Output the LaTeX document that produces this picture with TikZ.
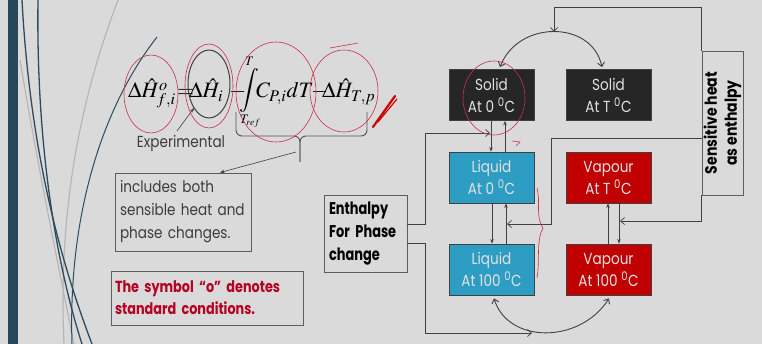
\documentclass[tikz,border=0pt]{standalone}
\usepackage{mathptmx}
\usepackage{fontspec}
\usetikzlibrary{arrows.meta}
\newfontfamily\gothic[FakeStretch=0.85]{Poppins}
\newfontfamily\gothicn[FakeStretch=0.76]{Poppins}
\newfontfamily\gothicr[FakeStretch=0.8]{Poppins}
\definecolor{bg}{RGB}{218,218,218}
\definecolor{bar}{RGB}{38,72,90}
\definecolor{solidc}{RGB}{38,38,38}
\definecolor{liq}{RGB}{46,157,195}
\definecolor{vap}{RGB}{192,0,0}
\definecolor{boxtxt}{RGB}{226,226,226}
\definecolor{ln}{RGB}{64,64,64}
\definecolor{txt}{RGB}{60,60,60}
\definecolor{redtxt}{RGB}{180,0,35}
\definecolor{ink}{RGB}{205,45,75}
\definecolor{deco}{RGB}{45,75,95}
\definecolor{decol}{RGB}{180,180,180}
\begin{document}
\begin{tikzpicture}[x=1pt,y=-1pt,
  phase/.style={minimum width=85pt,minimum height=51pt,draw=ln,line width=0.8pt,
    text=boxtxt,font=\gothic\fontsize{16}{22}\selectfont,align=center,inner sep=0pt},
  tbox/.style={draw=ln!85,line width=0.9pt,align=left,inner ysep=0pt,anchor=center},
  conn/.style={draw=ln,line width=0.7pt},
  arr/.style={conn,-{Stealth[length=4.5pt,width=3.5pt]}},
  barb/.style={conn,-{Straight Barb[length=4pt,width=7pt]}},
  barbs/.style={conn,{Straight Barb[length=4pt,width=7pt]}-{Straight Barb[length=4pt,width=7pt]}},
  eq/.style={font=\fontsize{22}{26}\selectfont,inner sep=0pt,anchor=base west},
  lim/.style={font=\fontsize{13}{15}\selectfont,inner sep=0pt,anchor=base west},
  note/.style={draw=ink,line width=0.6pt},
  decod/.style={draw=deco,line width=1.3pt},
  decog/.style={draw=decol,line width=1.1pt}]
\fill[bg] (0,0) rectangle (762,344);
\useasboundingbox (0,0) rectangle (762,344);
% decorative slide background
\draw[decog] (118,0) .. controls (80,100) and (58,210) .. (64,344);
\draw[decog] (20,60) .. controls (35,150) and (55,250) .. (74,344);
\draw[decod] (22,0) .. controls (30,150) and (60,260) .. (92,344);
\draw[decod] (38,0) .. controls (36,140) and (55,260) .. (82,344);
\draw[decod,line width=1pt] (157,37) .. controls (100,110) and (68,220) .. (72,344);
\fill[bar] (8,0) rectangle (18,344);

% equation
\node[eq] (h1) at (128,98) {$\Delta\hat{H}^{o}_{f,i}$};
\node[eq] (eqs) at (177,98) {$=$};
\node[eq] (h2) at (189,98) {$\Delta\hat{H}_{i}$};
\node[eq] (m1) at (229,98) {$-$};
\node[font=\fontsize{22}{26}\selectfont,inner sep=0pt] (ints) at (249,90) {$\displaystyle\int$};
\node[lim] (up) at (245,66) {$T$};
\node[lim] (lo) at (240,124) {$T_{ref}$};
\node[eq] (cp) at (256,98) {$C_{P,i}dT$};
\node[eq] (m2) at (311,98) {$-$};
\node[eq] (h3) at (322,98) {$\Delta\hat{H}_{T,p}$};
\node[font=\gothic\fontsize{16}{19}\selectfont,text=txt,inner sep=0pt] (exp) at (181,143) {Experimental};
\coordinate (ex1) at (177,131);
\coordinate (ex2) at (194,108);
\draw[arr,line width=0.6pt] (ex1) -- (ex2);

% brace
\coordinate (bl) at (236,112);
\coordinate (br) at (367,112);
\coordinate (bm) at (300,136);
\coordinate (bt) at (300,162);
\draw[ln!90,line width=0.9pt,rounded corners=6pt] (bl) |- (bm) -- (bt);
\draw[ln!90,line width=0.9pt,rounded corners=6pt] (br) |- (bm) -- (bt);
\coordinate (bs) at (296,152);

% text boxes
\node[tbox,minimum width=136pt,minimum height=78pt,text width=126pt,inner xsep=5pt,
  text=txt,font=\gothic\fontsize{16}{23}\selectfont] (inc) at (183,212)
  {includes both\\sensible heat and\\phase changes.};
\draw[arr,line width=0.6pt] (bs) -- ([xshift=37pt]inc.north);
\node[tbox,minimum width=192pt,minimum height=54pt,text width=184pt,inner xsep=4pt,
  text=redtxt,font=\gothicr\bfseries\fontsize{16}{22}\selectfont] (sym) at (207,298)
  {The symbol “o” denotes\\standard conditions.};
\node[tbox,minimum width=83pt,minimum height=77pt,text width=73pt,inner xsep=5pt,
  text=black,font=\gothicn\bfseries\fontsize{17}{23}\selectfont] (ent) at (365.5,233.5)
  {Enthalpy\\For Phase\\change};

% phase boxes
\node[phase,fill=solidc] (s0) at (491.5,95) {Solid\\At 0 \textsuperscript{0}C};
\node[phase,fill=solidc] (sT) at (608.5,95) {Solid\\At T \textsuperscript{0}C};
\node[phase,fill=liq] (l0) at (491.5,177.5) {Liquid\\At 0 \textsuperscript{0}C};
\node[phase,fill=vap] (vT) at (608.5,177.5) {Vapour\\At T \textsuperscript{0}C};
\node[phase,fill=liq] (l100) at (491.5,269.5) {Liquid\\At 100 \textsuperscript{0}C};
\node[phase,fill=vap] (v100) at (608.5,269.5) {Vapour\\At 100 \textsuperscript{0}C};

\node[draw=ln!85,line width=0.9pt,minimum width=41pt,minimum height=144pt,inner sep=0pt] (sens) at (722.5,123) {};
\node[rotate=90,align=center,font=\gothic\bfseries\fontsize{16.5}{20}\selectfont,text=black,inner sep=0pt] (senst) at (sens.center) {Sensitive heat\\as enthalpy};

% vertical arrows
\draw[arr] ([xshift=-0.5pt]s0.south) -- ([xshift=-0.5pt]l0.north);
\draw[arr] ([xshift=13.5pt]l0.north) -- ([xshift=13.5pt]s0.south);
\draw[arr] ([xshift=0.5pt]l0.south) -- ([xshift=0.5pt]l100.north);
\draw[arr] ([xshift=14.5pt]l100.north) -- ([xshift=14.5pt]l0.south);
\draw[arr] ([xshift=-0.5pt]v100.north) -- ([xshift=-0.5pt]vT.south);
\draw[arr] ([xshift=10.5pt]vT.south) -- ([xshift=10.5pt]v100.north);

% curves
\coordinate (apex) at (554,32);
\coordinate (topy) at (0,7);
\draw[barbs,line width=0.9pt] ([xshift=8.5pt,yshift=2pt]s0.north) .. controls (518,20) and (592,20) .. ([xshift=-6.5pt,yshift=2pt]sT.north);
\draw[barb] (sens.north west) |- (topy -| apex) -- (apex);
\draw[barbs,line width=0.9pt] ([xshift=2.5pt,yshift=-3pt]l100.south) .. controls (508,344) and (580,344) .. ([xshift=0.5pt,yshift=-3pt]v100.south);

% other connectors
\draw[barb] ([yshift=-15pt]sens.west) -| (551,224) -- (507,224);
\draw[barb] (sens.south west) |- (620,221);
\draw[barb] ([yshift=9.5pt]ent.east) -- ++(18,0) |- (490,133);
\draw[barb] ([yshift=-9.5pt]ent.east) -- ++(18,0) |- (532,333);

% handwritten annotations
\draw[note] (151,94) ellipse [x radius=27,y radius=39];
\draw[note] (209,86) ellipse [x radius=24,y radius=42];
\draw[ln,line width=1pt] (209,84) ellipse [x radius=21,y radius=34];
\draw[note] (276,92) ellipse [x radius=40,y radius=50];
\draw[note] (344,91) ellipse [x radius=34,y radius=41];
\draw[note] (330,48) -- (358,43);
\draw[draw=red!80!black,line width=2.2pt,line cap=round] (373,127) -- (395,96);
\draw[draw=red!80!black,line width=1.2pt,line cap=round] (378,122) -- (397,99);
\draw[note] (494,98) ellipse [x radius=31,y radius=37];
\draw[note] (512,141) -- (520,142) -- (516,146);
\draw[note] (537,188) .. controls (541,205) and (535,215) .. (543,228) .. controls (536,240) and (540,262) .. (537,278);
\end{tikzpicture}
\end{document}
